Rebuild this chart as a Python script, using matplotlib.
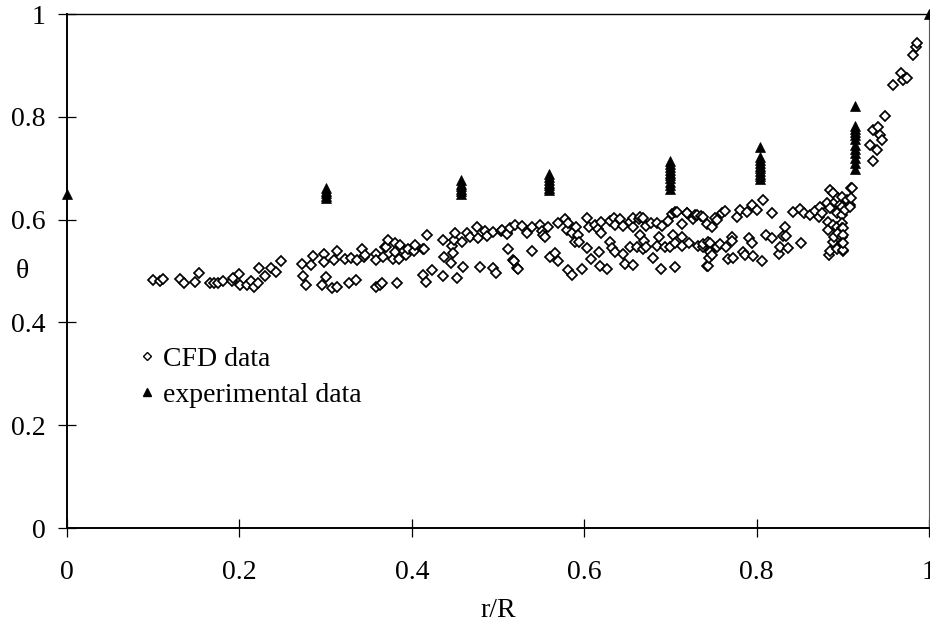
import matplotlib
matplotlib.use("Agg")
import matplotlib.pyplot as plt
from matplotlib.lines import Line2D

plt.rcParams['font.family'] = ['Liberation Serif', 'DejaVu Serif']

# CFD data (r/R, theta)
cfd_x = [0.100, 0.108, 0.111, 0.131, 0.136, 0.149, 0.153, 0.166, 0.171, 0.175,
         0.181, 0.191, 0.193, 0.199, 0.201, 0.209, 0.213, 0.217, 0.222, 0.223,
         0.230, 0.237, 0.242, 0.248, 0.273, 0.274, 0.277, 0.283, 0.285, 0.296,
         0.298, 0.298, 0.300, 0.307, 0.310, 0.313, 0.313, 0.323, 0.327, 0.330,
         0.335, 0.336, 0.342, 0.344, 0.346, 0.359, 0.359, 0.359, 0.363, 0.365,
         0.367, 0.369, 0.370, 0.372, 0.378, 0.381, 0.381, 0.383, 0.385, 0.386,
         0.391, 0.393, 0.396, 0.402, 0.404, 0.413, 0.413, 0.414, 0.416, 0.418,
         0.423, 0.436, 0.436, 0.437, 0.446, 0.447, 0.448, 0.449, 0.450, 0.452,
         0.458, 0.459, 0.464, 0.468, 0.476, 0.477, 0.479, 0.485, 0.487, 0.494,
         0.494, 0.498, 0.503, 0.505, 0.510, 0.510, 0.512, 0.514, 0.517, 0.519,
         0.520, 0.522, 0.523, 0.528, 0.534, 0.539, 0.539, 0.549, 0.551, 0.552,
         0.554, 0.558, 0.560, 0.566, 0.570, 0.570, 0.578, 0.580, 0.581, 0.581,
         0.586, 0.586, 0.589, 0.590, 0.593, 0.594, 0.597, 0.603, 0.603, 0.606,
         0.608, 0.613, 0.616, 0.617, 0.618, 0.620, 0.620, 0.626, 0.630, 0.630,
         0.632, 0.634, 0.636, 0.636, 0.641, 0.645, 0.645, 0.647, 0.653, 0.653,
         0.657, 0.657, 0.657, 0.661, 0.663, 0.665, 0.665, 0.668, 0.668, 0.669,
         0.672, 0.672, 0.678, 0.680, 0.684, 0.684, 0.687, 0.689, 0.690, 0.694,
         0.697, 0.700, 0.702, 0.703, 0.705, 0.705, 0.705, 0.708, 0.713, 0.713,
         0.713, 0.719, 0.719, 0.721, 0.726, 0.729, 0.731, 0.732, 0.736, 0.738,
         0.738, 0.738, 0.742, 0.742, 0.744, 0.744, 0.745, 0.746, 0.746, 0.746,
         0.748, 0.748, 0.752, 0.754, 0.754, 0.758, 0.760, 0.763, 0.764, 0.767,
         0.771, 0.771, 0.773, 0.777, 0.781, 0.784, 0.787, 0.789, 0.791, 0.795,
         0.795, 0.796, 0.800, 0.806, 0.807, 0.811, 0.818, 0.818, 0.826, 0.827,
         0.831, 0.833, 0.834, 0.836, 0.842, 0.850, 0.851, 0.855, 0.862, 0.868,
         0.872, 0.874, 0.876, 0.882, 0.883, 0.883, 0.884, 0.885, 0.885, 0.885,
         0.889, 0.889, 0.889, 0.890, 0.891, 0.893, 0.893, 0.893, 0.894, 0.894,
         0.897, 0.899, 0.899, 0.899, 0.899, 0.899, 0.899, 0.899, 0.900, 0.900,
         0.900, 0.900, 0.900, 0.902, 0.905, 0.908, 0.908, 0.910, 0.910, 0.911,
         0.932, 0.935, 0.935, 0.940, 0.941, 0.943, 0.945, 0.949, 0.958, 0.968,
         0.970, 0.974, 0.981, 0.985, 0.986]
cfd_y = [0.482, 0.480, 0.484, 0.484, 0.476, 0.479, 0.496, 0.476, 0.476, 0.477,
         0.480, 0.480, 0.486, 0.494, 0.473, 0.473, 0.480, 0.469, 0.477, 0.506,
         0.490, 0.506, 0.498, 0.519, 0.514, 0.490, 0.473, 0.512, 0.529, 0.473,
         0.533, 0.518, 0.488, 0.467, 0.521, 0.539, 0.469, 0.523, 0.477, 0.525,
         0.482, 0.521, 0.542, 0.527, 0.531, 0.533, 0.521, 0.469, 0.473, 0.477,
         0.527, 0.547, 0.547, 0.560, 0.523, 0.554, 0.537, 0.477, 0.523, 0.550,
         0.539, 0.531, 0.542, 0.539, 0.550, 0.543, 0.492, 0.542, 0.479, 0.571,
         0.502, 0.560, 0.490, 0.527, 0.515, 0.549, 0.535, 0.560, 0.574, 0.486,
         0.556, 0.508, 0.574, 0.566, 0.586, 0.564, 0.508, 0.578, 0.568, 0.576,
         0.506, 0.496, 0.578, 0.580, 0.574, 0.572, 0.543, 0.584, 0.521, 0.519,
         0.589, 0.506, 0.504, 0.588, 0.574, 0.586, 0.539, 0.589, 0.578, 0.570,
         0.566, 0.586, 0.527, 0.535, 0.593, 0.519, 0.601, 0.580, 0.593, 0.502,
         0.574, 0.492, 0.556, 0.586, 0.570, 0.556, 0.504, 0.603, 0.545, 0.586,
         0.523, 0.589, 0.582, 0.537, 0.510, 0.574, 0.595, 0.504, 0.597, 0.556,
         0.545, 0.603, 0.537, 0.589, 0.601, 0.588, 0.533, 0.514, 0.595, 0.547,
         0.586, 0.512, 0.603, 0.547, 0.601, 0.570, 0.605, 0.603, 0.543, 0.558,
         0.588, 0.547, 0.593, 0.525, 0.593, 0.549, 0.566, 0.504, 0.588, 0.547,
         0.597, 0.547, 0.611, 0.570, 0.554, 0.508, 0.615, 0.615, 0.591, 0.566,
         0.549, 0.613, 0.613, 0.554, 0.601, 0.609, 0.609, 0.549, 0.607, 0.605,
         0.547, 0.553, 0.591, 0.510, 0.556, 0.510, 0.525, 0.541, 0.554, 0.537,
         0.586, 0.531, 0.603, 0.599, 0.547, 0.553, 0.613, 0.617, 0.547, 0.523,
         0.566, 0.558, 0.525, 0.605, 0.619, 0.537, 0.531, 0.615, 0.564, 0.628,
         0.554, 0.529, 0.619, 0.519, 0.638, 0.570, 0.564, 0.613, 0.533, 0.547,
         0.568, 0.586, 0.568, 0.545, 0.615, 0.620, 0.554, 0.612, 0.608, 0.617,
         0.605, 0.625, 0.613, 0.632, 0.595, 0.580, 0.531, 0.658, 0.622, 0.539,
         0.652, 0.589, 0.556, 0.566, 0.634, 0.613, 0.586, 0.543, 0.642, 0.574,
         0.628, 0.644, 0.609, 0.593, 0.566, 0.584, 0.554, 0.625, 0.584, 0.570,
         0.539, 0.541, 0.554, 0.619, 0.638, 0.628, 0.625, 0.661, 0.642, 0.661,
         0.745, 0.775, 0.714, 0.735, 0.781, 0.765, 0.755, 0.802, 0.862, 0.885,
         0.872, 0.875, 0.920, 0.936, 0.944]

# Experimental data (r/R, theta)
exp_x = [0.0,
         0.30, 0.30, 0.30, 0.30, 0.30,
         0.457, 0.457, 0.457, 0.457, 0.457, 0.457,
         0.559, 0.559, 0.559, 0.559, 0.559, 0.559, 0.559,
         0.700, 0.700, 0.700, 0.700, 0.700, 0.700, 0.700, 0.700, 0.700, 0.700,
         0.804, 0.804, 0.804, 0.804, 0.804, 0.804, 0.804, 0.804, 0.804, 0.804,
         0.914, 0.914, 0.914, 0.914, 0.914, 0.914, 0.914, 0.914, 0.914, 0.914, 0.914, 0.914,
         1.0]
exp_y = [0.650,
         0.661, 0.656, 0.651, 0.646, 0.642,
         0.677, 0.670, 0.665, 0.660, 0.655, 0.650,
         0.689, 0.683, 0.677, 0.671, 0.667, 0.662, 0.658,
         0.714, 0.708, 0.702, 0.697, 0.691, 0.686, 0.680, 0.674, 0.667, 0.660,
         0.741, 0.722, 0.716, 0.710, 0.705, 0.700, 0.694, 0.689, 0.684, 0.679,
         0.821, 0.782, 0.776, 0.770, 0.764, 0.757, 0.745, 0.737, 0.729, 0.720, 0.710, 0.698,
         1.0]

xticks = [0, 0.2, 0.4, 0.6, 0.8, 1.0]
xticklabels = ['0', '0.2', '0.4', '0.6', '0.8', '1']
yticks = [0, 0.2, 0.4, 0.6, 0.8, 1.0]
yticklabels = ['0', '0.2', '0.4', '0.6', '0.8', '1']

fig = plt.figure(figsize=(9.30, 6.24), dpi=100)
ax = fig.add_axes([67/930, 96/624, 862/930, 514/624])

ax.plot(cfd_x, cfd_y, linestyle='none', marker='D', markersize=5.6,
        markerfacecolor='white', markeredgecolor='black', markeredgewidth=1.25,
        clip_on=False, zorder=3)
ax.plot(exp_x, exp_y, linestyle='none', marker='^', markersize=6.5,
        markerfacecolor='black', markeredgecolor='black', markeredgewidth=0.5,
        clip_on=False, zorder=4)

ax.set_xlim(0, 1)
ax.set_ylim(0, 1)
ax.set_xticks(xticks)
ax.set_xticklabels(xticklabels)
ax.set_yticks(yticks)
ax.set_yticklabels(yticklabels)

ax.tick_params(axis='both', direction='inout', length=13, width=0.9,
               labelsize=20, colors='black')
ax.tick_params(axis='x', pad=16.5)
ax.tick_params(axis='y', pad=9)

for side in ['left', 'bottom']:
    ax.spines[side].set_linewidth(1.4)
    ax.spines[side].set_color('black')
ax.spines['top'].set_linewidth(1.0)
ax.spines['top'].set_color('black')
ax.spines['right'].set_linewidth(0.8)
ax.spines['right'].set_color('#555555')

ax.set_xlabel('r/R', fontsize=20, labelpad=9.5)
ax.set_ylabel('θ', fontsize=20, rotation=0, va='center', ha='center')
ax.yaxis.set_label_coords(-0.052, 0.5)

handles = [
    Line2D([], [], linestyle='none', marker='D', markersize=4.5,
           markerfacecolor='white', markeredgecolor='black', markeredgewidth=1.0),
    Line2D([], [], linestyle='none', marker='^', markersize=6,
           markerfacecolor='black', markeredgecolor='black'),
]
ax.legend(handles, ['CFD data', 'experimental data'], loc='upper left',
          bbox_to_anchor=(0.07, 0.375), frameon=False, fontsize=20,
          handlelength=0.6, handletextpad=0.3, labelspacing=0.38,
          borderaxespad=0)

fig.savefig('out.png', dpi=100)
